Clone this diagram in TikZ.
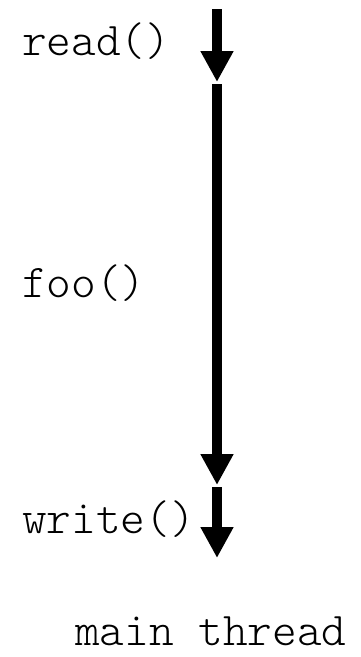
\documentclass[tikz,border=0pt]{standalone}
\usepackage{fontspec}
\setmonofont{Latin Modern Mono Light}
\usetikzlibrary{arrows.meta}

\begin{document}
\begin{tikzpicture}[x=1pt, y=-1pt,
    etiqueta/.style={anchor=base west, inner sep=0pt, font=\ttfamily\fontsize{47}{47}\selectfont},
    flecha/.style={line width=10.5pt, -{Triangle[length=31pt, width=31pt]}}]

    % Marco de la figura
    \useasboundingbox (0,0) rectangle (361,657);

    % Puntos del hilo principal
    \coordinate (p0) at (217,9);
    \coordinate (p1) at (217,82);
    \coordinate (p2) at (217,84);
    \coordinate (p3) at (217,485);
    \coordinate (p4) at (217,487);
    \coordinate (p5) at (217,558);

    % Flechas: read, foo, write
    \draw[flecha] (p0) -- (p1);
    \draw[flecha] (p2) -- (p3);
    \draw[flecha] (p4) -- (p5);

    % Nombres de las llamadas
    \node[etiqueta] (read) at (22,55) {read()};
    \node[etiqueta] (foo) at (22,297) {foo()};
    \node[etiqueta] (write) at (22,533) {write()};
    \node[etiqueta] (main) at (75,645) {main thread};

\end{tikzpicture}
\end{document}
